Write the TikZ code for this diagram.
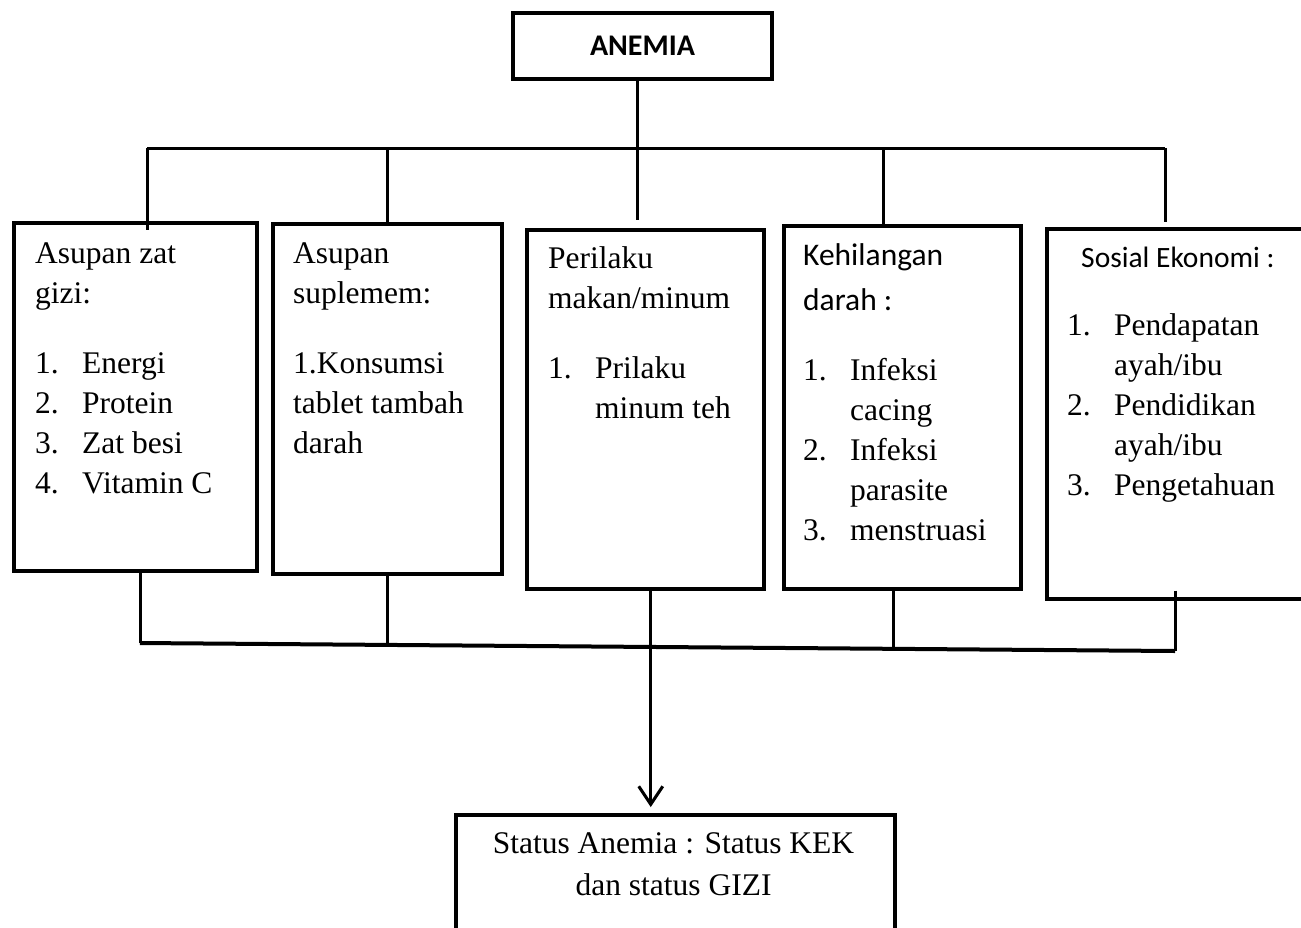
\documentclass[tikz,border=0pt]{standalone}
\usepackage{fontspec}
\setmainfont{Liberation Serif}
\newfontfamily\calibri{Carlito}
\usetikzlibrary{arrows.meta}
\newcommand{\itm}[1]{\makebox[47pt][l]{#1}}

\begin{document}
\begin{tikzpicture}[x=1pt,y=-1pt,
  box/.style={draw, line width=3.5pt, inner sep=0pt, anchor=north west},
  txt/.style={inner sep=0pt, anchor=north west, align=left, font=\fontsize{31.5}{40}\selectfont},
  head/.style={inner sep=0pt, anchor=north west, align=left, font=\calibri\fontsize{31.5}{45}\selectfont},
  conn/.style={line width=3pt},
  ]
\clip (0,0) rectangle (1301,927);
% boxes
\node[box, anchor=center, minimum width=259pt, minimum height=66pt,
  font=\calibri\bfseries\fontsize{30}{36}\selectfont] (anemia) at (642.5,46) {ANEMIA};
\node[box, minimum width=243pt, minimum height=348pt] (asupan) at (12,221) {};
\node[box, minimum width=229pt, minimum height=350pt] (suplemen) at (271,222) {};
\node[box, minimum width=237pt, minimum height=359pt] (perilaku) at (525,228) {};
\node[box, minimum width=237pt, minimum height=363pt] (darah) at (782,224) {};
\node[box, minimum width=300pt, minimum height=370pt] (sosial) at (1045,227) {};
\node[box, minimum width=439pt, minimum height=200pt] (status) at (454,813) {};
% texts
\node[txt] (t1) at (35,235) {\strut Asupan zat\\ gizi:\\[30pt]
  \itm{1.}Energi\\ \itm{2.}Protein\\ \itm{3.}Zat besi\\ \itm{4.}Vitamin C};
\node[txt] (t2) at (293,235) {\strut Asupan\\ suplemem:\\[30pt]
  1.Konsumsi\\ tablet tambah\\ darah};
\node[txt] (t3) at (548,240) {\strut Perilaku\\ makan/minum\\[30pt]
  \itm{1.}Prilaku\\ \itm{}minum teh};
\node[head] (h4) at (803,233.5) {\strut Kehilangan\\ darah :};
\node[txt] (t4) at (803,352) {\strut\itm{1.}Infeksi\\ \itm{}cacing\\ \itm{2.}Infeksi\\
  \itm{}parasite\\ \itm{3.}menstruasi};
\node[head, font=\calibri\fontsize{29.5}{45}\selectfont] (h5) at (1081,235.5) {\strut Sosial Ekonomi :};
\node[txt] (t5) at (1067,307) {\strut\itm{1.}Pendapatan\\ \itm{}ayah/ibu\\ \itm{2.}Pendidikan\\
  \itm{}ayah/ibu\\ \itm{3.}Pengetahuan};
\node[txt, anchor=north, align=center, font=\fontsize{31.5}{42}\selectfont] (t6) at (673.5,823.6)
  {\strut Status Anemia : Status KEK\\ dan status GIZI};
% top bus
\coordinate (top1) at (147,148);
\coordinate (top2) at (387,148);
\coordinate (top3) at (637,148);
\coordinate (top4) at (883,148);
\coordinate (top5) at (1165,148);
\draw[conn] (top1) -- (top5);
\draw[conn] ([xshift=-5.5pt]anemia.south) -- ([yshift=8pt]top3 |- perilaku.north);
\draw[conn] (top1) -- ([yshift=-9pt]top1 |- asupan.north);
\draw[conn] (top2) -- (top2 |- suplemen.north);
\draw[conn] (top4) -- (top4 |- darah.north);
\draw[conn] (top5) -- ([yshift=5pt]top5 |- sosial.north);
% bottom bus
\coordinate (bot1) at (140,643);
\coordinate (bot2) at (387,645);
\coordinate (bot4) at (893,647);
\coordinate (bot5) at (1175,651);
\draw[line width=4pt] (bot1) -- (bot5);
\draw[conn] (asupan.south -| bot1) -- (bot1);
\draw[conn] (suplemen.south -| bot2) -- (bot2);
\draw[conn] (darah.south -| bot4) -- (bot4);
\draw[conn] ([yshift=10pt]sosial.south -| bot5) -- (bot5);
\draw[conn, -{Straight Barb[length=18pt,width=24pt]}]
  ([xshift=5.5pt]perilaku.south) -- ([xshift=5.5pt,yshift=6pt]perilaku.south |- status.north);
\end{tikzpicture}
\end{document}
